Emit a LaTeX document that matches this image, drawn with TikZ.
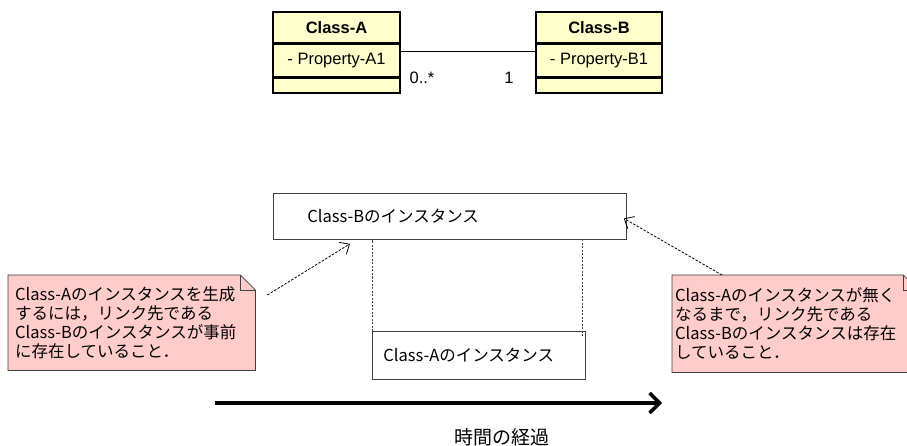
\documentclass[tikz,border=0pt]{standalone}
\usepackage{fontspec}
\setmainfont{Liberation Sans}
\newfontfamily\jpfont{Noto Sans CJK JP}
\usetikzlibrary{positioning,arrows.meta,backgrounds,calc}
\definecolor{umlyellow}{HTML}{FFFFCC}
\definecolor{umlpink}{HTML}{FFCCCC}
\definecolor{umlgray}{HTML}{404040}

\begin{document}
\begin{tikzpicture}[
  x=1pt, y=-1pt,
  font=\fontsize{16.5}{19}\selectfont,
  cls/.style={draw, fill=umlyellow, line width=1.6pt, inner sep=0pt},
  clshead/.style={cls, minimum height=31pt, font=\fontsize{16.5}{19}\selectfont\bfseries},
  clsprop/.style={cls, minimum height=32pt},
  clsops/.style={cls, minimum height=15pt},
  mult/.style={inner sep=1pt},
  inst/.style={draw=umlgray, line width=0.8pt, anchor=north west, align=left, font=\jpfont\fontsize{16.5}{19}\selectfont},
  note/.style={anchor=north west, align=left, inner ysep=4pt, font=\jpfont\fontsize{16.5}{19}\selectfont},
  assoc/.style={draw=black, line width=0.8pt},
  life/.style={draw=umlgray, line width=0.8pt, dash pattern=on 2pt off 1.5pt},
  hint/.style={-{Straight Barb[length=8pt,width=14pt]}, line width=0.8pt, dash pattern=on 2.5pt off 1.5pt},
  timeline/.style={-{Straight Barb[length=10pt,width=20pt]}, line width=3.5pt}
]
\useasboundingbox (0,0) rectangle (907,446);
\clip (0,0) rectangle (907,446);
% Class diagram
\node[clshead, minimum width=127pt] (clsA) at (336.5,27.5) {Class-A};
\node[clsprop, minimum width=127pt, below=0pt of clsA] (propA) {- Property-A1};
\node[clsops, minimum width=127pt, below=0pt of propA] (opsA) {};
\node[clshead, minimum width=126pt] (clsB) at (599,27.5) {Class-B};
\node[clsprop, minimum width=126pt, below=0pt of clsB] (propB) {- Property-B1};
\node[clsops, minimum width=126pt, below=0pt of propB] (opsB) {};
\draw[assoc] ([yshift=9pt]propA.east) -- ([yshift=9pt]propB.west);
\node[mult] (multA) at (422,78) {0..*};
\node[mult] (multB) at (509,78) {1};
% Instances
\node[inst, text width=285pt, inner xsep=34pt, minimum height=46pt] (instB) at (273,193) {Class-Bのインスタンス};
\node[inst, text width=191pt, inner xsep=11pt, minimum height=48pt] (instA) at (372,331) {Class-Aのインスタンス};
\coordinate (lifeL) at (instA.north west);
\coordinate (lifeR) at ([xshift=-3pt,yshift=-5pt]instA.north east);
\draw[life] (lifeL) -- (lifeL |- instB.south);
\draw[life] (lifeR) -- (lifeR |- instB.south);
% Notes
\node[note, text width=233pt, inner xsep=7pt, minimum height=95pt] (noteL) at (8,275)
  {Class-Aのインスタンスを生成\\するには，リンク先である\\Class-Bのインスタンスが事前\\に存在していること．\\[4pt]};
\node[note, text width=240pt, inner xsep=3pt, minimum height=97pt] (noteR) at (672,275)
  {Class-Aのインスタンスが無く\\なるまで，リンク先である\\Class-Bのインスタンスは存在\\していること．\\[4pt]};
\begin{scope}[on background layer]
  \foreach \n in {noteL,noteR} {
    \filldraw[fill=umlpink, draw=umlgray, line width=0.8pt]
      (\n.north west) -- ([xshift=-15pt]\n.north east) -- ([yshift=-15pt]\n.north east)
      -- (\n.south east) -- (\n.south west) -- cycle;
    \draw[umlgray, line width=0.8pt] ([xshift=-15pt]\n.north east) -- ([xshift=-15pt,yshift=-15pt]\n.north east)
      -- ([yshift=-15pt]\n.north east);
  }
\end{scope}
% Edges
\coordinate (fromL) at ([xshift=12pt,yshift=-20pt]noteL.north east);
\coordinate (toL) at ([xshift=77pt,yshift=-4pt]instB.south west);
\coordinate (fromR) at ([xshift=50pt]noteR.north west);
\coordinate (toR) at ([xshift=-3pt,yshift=-2pt]instB.east);
\draw[hint] (fromL) -- (toL);
\draw[hint] (fromR) -- (toR);
% Time axis
\coordinate (tStart) at (215,403);
\coordinate (tEnd) at (662,403);
\draw[timeline] (tStart) -- (tEnd);
\node[font=\jpfont\fontsize{19}{22}\selectfont] (tLabel) at (502,437) {時間の経過};
\end{tikzpicture}
\end{document}
